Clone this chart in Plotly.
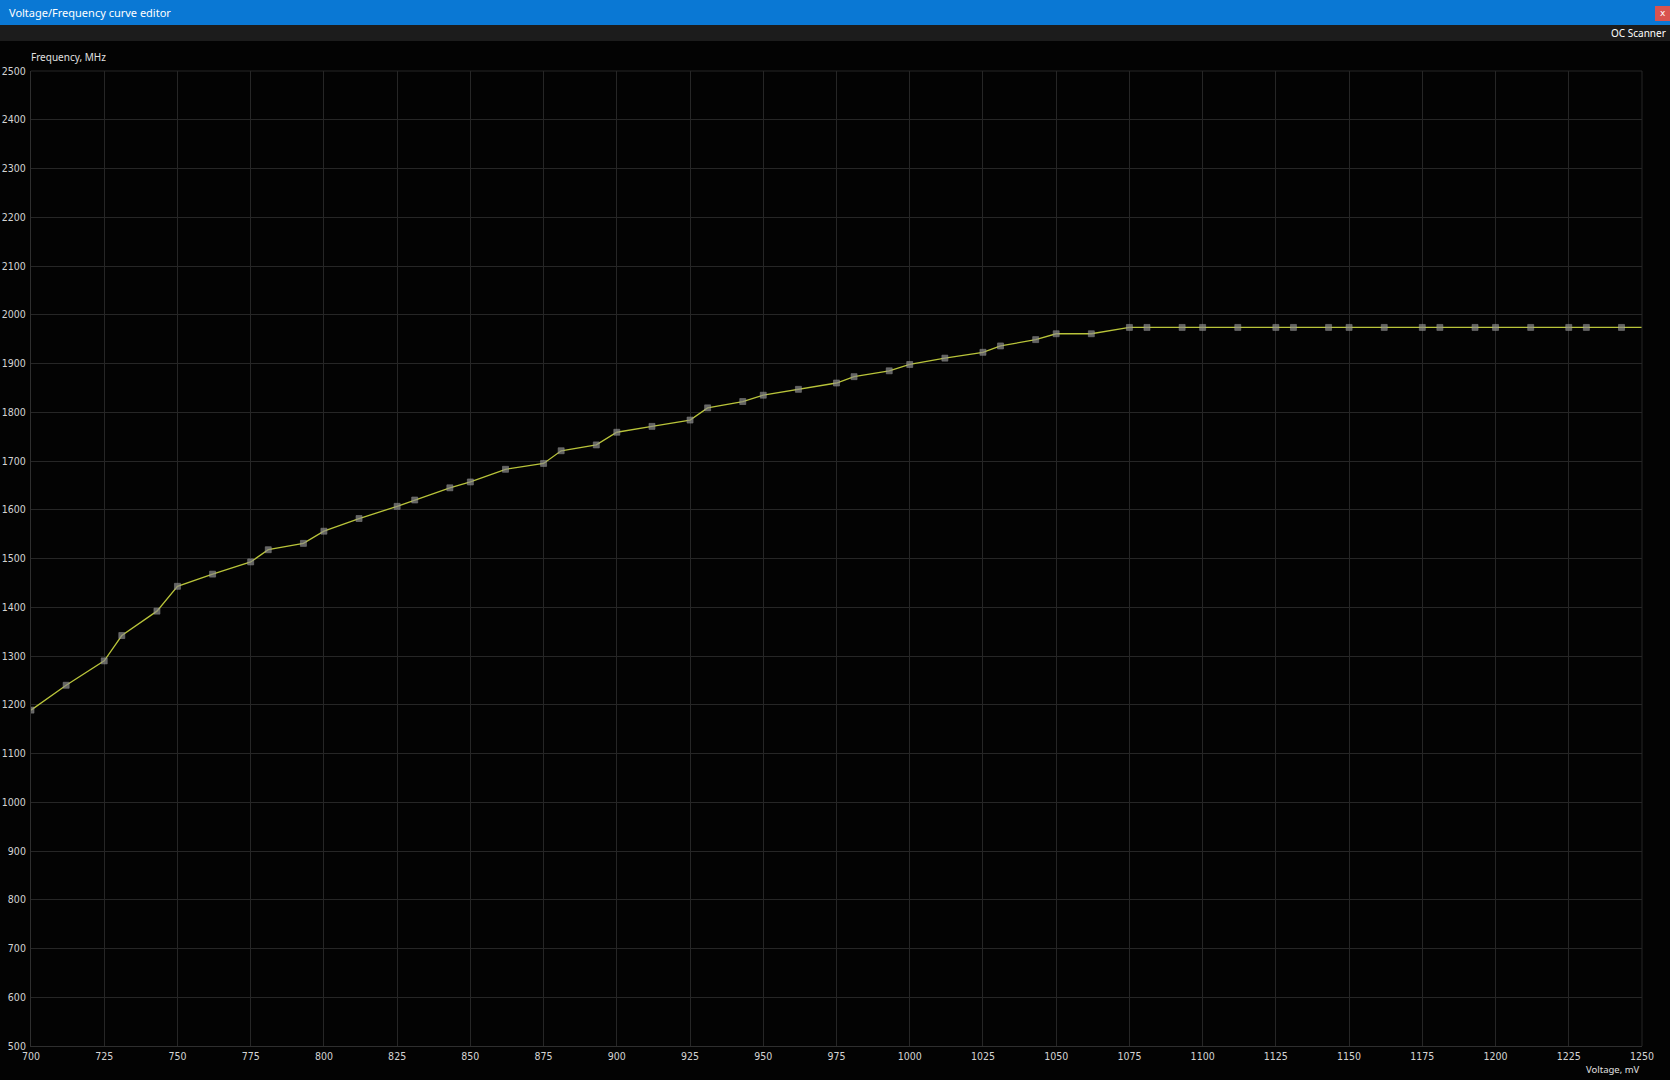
import plotly.graph_objects as go

voltage_mv = [700, 712, 725, 731, 743, 750, 762, 775, 781, 793, 800, 812, 825, 831, 843, 850,
              862, 875, 881, 893, 900, 912, 925, 931, 943, 950, 962, 975, 981, 993, 1000, 1012,
              1025, 1031, 1043, 1050, 1062, 1075, 1081, 1093, 1100, 1112, 1125, 1131, 1143, 1150,
              1162, 1175, 1181, 1193, 1200, 1212, 1225, 1231, 1243, 1250]
frequency_mhz = [1189, 1240, 1290, 1342, 1392, 1443, 1468, 1493, 1518, 1531, 1556, 1582, 1607, 1620,
                 1645, 1657, 1683, 1695, 1721, 1733, 1759, 1771, 1784, 1809, 1822, 1835, 1847, 1860,
                 1873, 1885, 1898, 1911, 1923, 1936, 1949, 1961, 1961, 1974, 1974, 1974, 1974, 1974,
                 1974, 1974, 1974, 1974, 1974, 1974, 1974, 1974, 1974, 1974, 1974, 1974, 1974, 1974]
x_ticks = list(range(700, 1251, 25))
y_ticks = list(range(500, 2501, 100))

W, H = 1670, 1080
L, R, T, B = 31, 28, 71, 34
pw, ph = W - L - R, H - T - B

def px(xp):
    return (xp - L) / pw

def py(yp):
    return (H - B - yp) / ph

marker_sizes = [6] * (len(voltage_mv) - 1) + [0]

fig = go.Figure()
fig.add_trace(go.Scatter(
    x=voltage_mv, y=frequency_mhz, mode="lines+markers",
    line=dict(color="#b9c43a", width=1.3),
    marker=dict(symbol="square", size=marker_sizes, color="#8c8c8c",
                line=dict(color="#b0b0b0", width=0.6)),
    hoverinfo="x+y", showlegend=False,
))

font_main = "DejaVu Sans Condensed, Liberation Sans Narrow, DejaVu Sans, sans-serif"

fig.update_layout(
    width=W, height=H,
    margin=dict(l=L, r=R, t=T, b=B, pad=0, autoexpand=False),
    paper_bgcolor="#030303", plot_bgcolor="#030303",
    font=dict(family=font_main, size=10, color="#d4d4d4"),
    xaxis=dict(range=[700, 1250], tickvals=x_ticks, ticktext=[str(v) for v in x_ticks],
               showgrid=True, gridcolor="#262626", gridwidth=1, zeroline=False, automargin=False,
               showline=True, linecolor="#2e2e2e", ticks="", ticklabelstandoff=0,
               tickfont=dict(family=font_main, size=10.5, color="#d4d4d4"), fixedrange=True),
    yaxis=dict(range=[500, 2500], tickvals=y_ticks, ticktext=[str(v) for v in y_ticks],
               showgrid=True, gridcolor="#262626", gridwidth=1, zeroline=False, automargin=False,
               showline=True, linecolor="#2e2e2e", ticks="", ticklabelstandoff=2,
               tickfont=dict(family=font_main, size=10.5, color="#d4d4d4"), fixedrange=True),
    shapes=[
        dict(type="rect", xref="paper", yref="paper", x0=px(0), x1=px(W), y0=py(25), y1=py(0),
             fillcolor="#0a78d4", line=dict(width=0), layer="above"),
        dict(type="rect", xref="paper", yref="paper", x0=px(0), x1=px(W), y0=py(41), y1=py(25),
             fillcolor="#1c1c1c", line=dict(width=0), layer="above"),
        dict(type="rect", xref="paper", yref="paper", x0=px(1655), x1=px(W), y0=py(21), y1=py(6),
             fillcolor="#d9534f", line=dict(width=0), layer="above"),
        dict(type="line", xref="paper", yref="paper", x0=1, x1=1, y0=0, y1=1,
             line=dict(color="#262626", width=1)),
        dict(type="line", xref="paper", yref="paper", x0=0, x1=1, y0=1, y1=1,
             line=dict(color="#262626", width=1)),
    ],
    annotations=[
        dict(text="Voltage/Frequency curve editor", xref="paper", yref="paper",
             x=px(7), y=py(12.5), xanchor="left", yanchor="middle", showarrow=False,
             font=dict(family="Noto Sans, DejaVu Sans, sans-serif", size=11, color="#ffffff")),
        dict(text="x", xref="paper", yref="paper", x=px(1662.5), y=py(13.5),
             xanchor="center", yanchor="middle", showarrow=False,
             font=dict(family="DejaVu Sans", size=9, color="#ffffff")),
        dict(text="OC Scanner", xref="paper", yref="paper", x=px(1668), y=py(33),
             xanchor="right", yanchor="middle", showarrow=False,
             font=dict(family="Noto Sans, DejaVu Sans, sans-serif", size=10, color="#ffffff")),
        dict(text="Frequency, MHz", xref="paper", yref="paper", x=px(29), y=py(57),
             xanchor="left", yanchor="middle", showarrow=False,
             font=dict(family="Noto Sans, DejaVu Sans, sans-serif", size=10, color="#e0e0e0")),
        dict(text="Voltage, mV", xref="paper", yref="paper", x=px(1642), y=py(1069),
             xanchor="right", yanchor="middle", showarrow=False,
             font=dict(family="Noto Sans, DejaVu Sans, sans-serif", size=9.5, color="#e0e0e0")),
    ],
)

fig.write_html("out.html")
